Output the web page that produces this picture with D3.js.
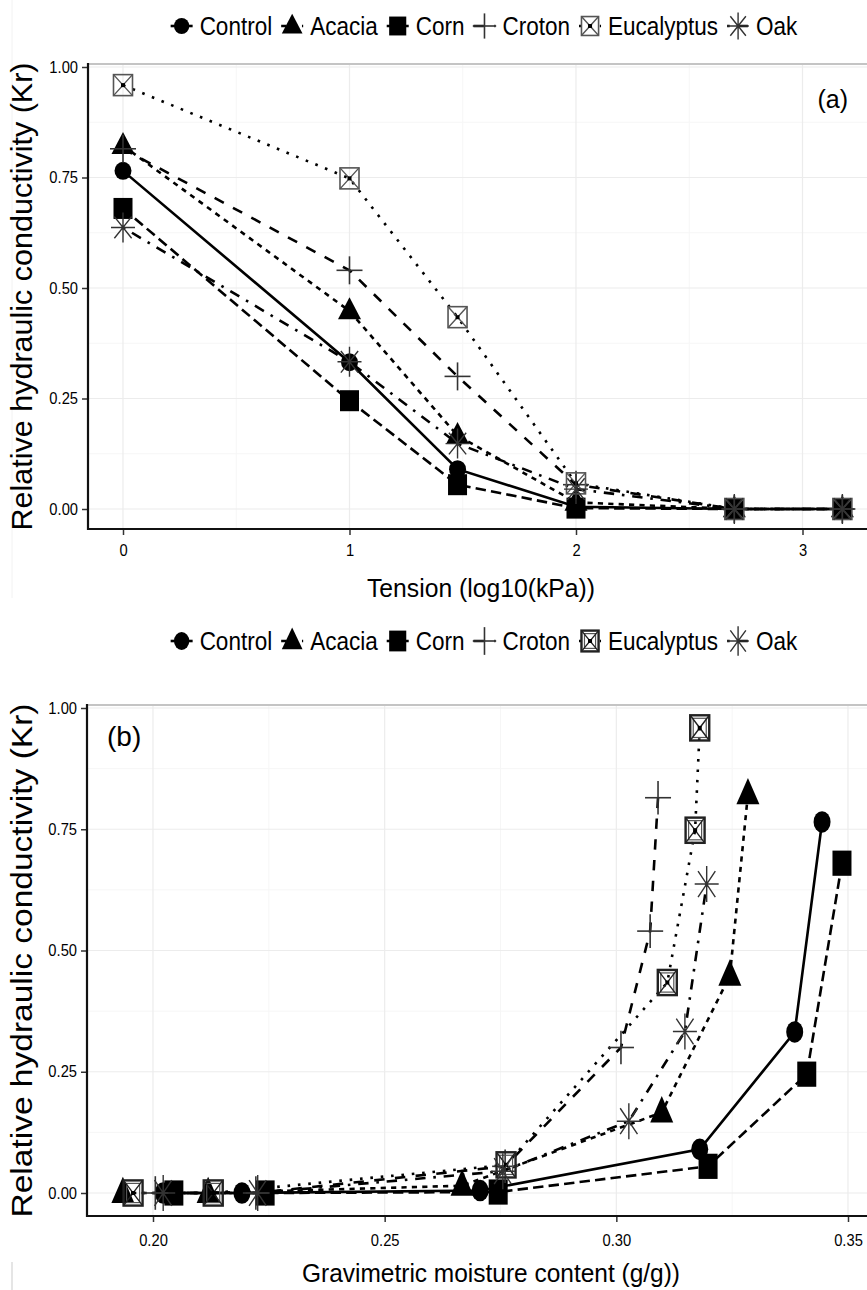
<!DOCTYPE html>
<html>
<head>
<meta charset="utf-8">
<script src="https://cdn.jsdelivr.net/npm/d3@7"></script>
<style>
  body { margin: 0; background: #fff; }
  svg { display: block; }
  text { font-family: "Liberation Sans", Arial, sans-serif; fill: #000; }
</style>
</head>
<body>
<svg id="chart" width="867" height="1290"></svg>
<script>
// ---- data ----
var species = ["Control", "Acacia", "Corn", "Croton", "Eucalyptus", "Oak"];
var tension = [0, 1, 1.477, 2, 2.699, 3.176];   // log10(kPa)

// relative hydraulic conductivity (Kr) per tension step
var krControl    = [0.765, 0.332, 0.090, 0.005, 0, 0];
var krAcacia     = [0.822, 0.448, 0.166, 0.015, 0, 0];
var krCorn       = [0.680, 0.245, 0.055, 0.002, 0, 0];
var krCroton     = [0.815, 0.540, 0.300, 0.055, 0, 0];
var krEucalyptus = [0.959, 0.748, 0.434, 0.058, 0, 0];
var krOak        = [0.637, 0.333, 0.148, 0.045, 0, 0];

// gravimetric moisture content (g/g) per tension step
var wControl    = [0.3444, 0.3385, 0.3180, 0.2706, 0.2192, 0.2022];
var wAcacia     = [0.3284, 0.3245, 0.3098, 0.2667, 0.2119, 0.1935];
var wCorn       = [0.3487, 0.3411, 0.3198, 0.2745, 0.2242, 0.2045];
var wCroton     = [0.3090, 0.3073, 0.3010, 0.2760, 0.2222, 0.2005];
var wEucalyptus = [0.3180, 0.3170, 0.3110, 0.2762, 0.2130, 0.1957];
var wOak        = [0.3195, 0.3148, 0.3027, 0.2755, 0.2226, 0.2022];

var yTicks = [0, 0.25, 0.5, 0.75, 1];
var xTicksA = [0, 1, 2, 3];
var xTicksB = [0.20, 0.25, 0.30, 0.35];

var krAll = [krControl, krAcacia, krCorn, krCroton, krEucalyptus, krOak];
var wAll  = [wControl, wAcacia, wCorn, wCroton, wEucalyptus, wOak];

// ggplot style: shape + linetype per species
var shapes = ["circle", "triangle", "square", "plus", "boxx", "asterisk"];
var dashes = ["solid", "22", "42", "44", "13", "1343"];

var W = 867;
var LW = 2.6;
var svg = d3.select("#chart");

function dashArray(code) {
  if (code == "solid") return null;
  return code.split("").map(function(c) { return parseInt(c, 16) * LW; }).join(",");
}

function squeeze(sel, f) {
  sel.each(function() {
    var l = this.getComputedTextLength();
    d3.select(this).attr("textLength", l * f).attr("lengthAdjust", "spacingAndGlyphs");
  });
}

// draw one marker centred at cx,cy ; sx/sy scale sizes
function marker(g, shape, cx, cy, sx, sy, heavy) {
  var m = g.append("g").attr("transform", "translate(" + cx + "," + cy + ")");
  if (shape == "circle") {
    m.append("ellipse").attr("rx", 8.5 * sx).attr("ry", 9 * sy).attr("fill", "#000");
  } else if (shape == "square") {
    m.append("rect").attr("x", -9.5 * sx).attr("y", -10.5 * sy)
      .attr("width", 19 * sx).attr("height", 21 * sy).attr("fill", "#000");
  } else if (shape == "triangle") {
    var hw = 11.5 * sx, h = 22 * sy;
    m.append("path").attr("d", "M0," + (-0.62 * h) + "L" + hw + "," + (0.38 * h) + "L" + (-hw) + "," + (0.38 * h) + "Z")
      .attr("fill", "#000");
  } else if (shape == "plus") {
    m.append("line").attr("x1", -13 * sx).attr("x2", 13 * sx).attr("y1", 0).attr("y2", 0)
      .attr("stroke", "#333").attr("stroke-width", 1.6);
    m.append("line").attr("y1", -14 * sy).attr("y2", 14 * sy).attr("x1", 0).attr("x2", 0)
      .attr("stroke", "#333").attr("stroke-width", 1.6);
  } else if (shape == "boxx") {
    var bw = 9.5 * sx, bh = 10.5 * sy;
    var col = heavy ? "#222" : "#555", sw = heavy ? 2.4 : 1.6;
    m.append("rect").attr("x", -bw).attr("y", -bh).attr("width", 2 * bw).attr("height", 2 * bh)
      .attr("fill", "none").attr("stroke", col).attr("stroke-width", sw);
    if (heavy) {
      m.append("rect").attr("x", -bw + 3).attr("y", -bh + 3).attr("width", 2 * bw - 6).attr("height", 2 * bh - 6)
        .attr("fill", "none").attr("stroke", "#555").attr("stroke-width", 1.2);
    }
    m.append("path").attr("d", "M" + (-bw) + "," + (-bh) + "L" + bw + "," + bh + "M" + bw + "," + (-bh) + "L" + (-bw) + "," + bh)
      .attr("stroke", col).attr("stroke-width", 1.4);
    m.append("rect").attr("x", -2).attr("y", -2).attr("width", 4).attr("height", 4).attr("fill", "#000");
  } else if (shape == "asterisk") {
    var ax = 12 * sx, ay = 15 * sy;
    var d = "M" + (-ax) + ",0L" + ax + ",0M0," + (-ay) + "L0," + ay +
      "M" + (-ax * 0.72) + "," + (-ay * 0.72) + "L" + (ax * 0.72) + "," + (ay * 0.72) +
      "M" + (ax * 0.72) + "," + (-ay * 0.72) + "L" + (-ax * 0.72) + "," + (ay * 0.72);
    m.append("path").attr("d", d).attr("stroke", "#333").attr("stroke-width", 1.4).attr("fill", "none");
  }
}

function legend(cy, sy, heavy) {
  var lg = svg.append("g");
  var txts = species.map(function(s) {
    return lg.append("text").attr("font-size", 25).attr("y", cy + 9).text(s);
  });
  txts.forEach(function(t) { squeeze(t, 0.9); });
  var widths = txts.map(function(t) { return +t.attr("textLength"); });
  var total = 9 + d3.sum(widths) + species.length * 18 + (species.length - 1) * 20;
  var xc = 485 - total / 2 + 9;
  species.forEach(function(s, i) {
    lg.append("line").attr("x1", xc - 11).attr("x2", xc + 11).attr("y1", cy).attr("y2", cy)
      .attr("stroke", "#000").attr("stroke-width", LW).attr("stroke-dasharray", dashArray(dashes[i]));
    marker(lg, shapes[i], xc, cy, 0.9, 0.9 * sy, heavy);
    txts[i].attr("x", xc + 18);
    xc = xc + 18 + widths[i] + 20;
  });
}

function panel(p) {
  var g = svg.append("g");
  var x = d3.scaleLinear().domain(p.xDom).range(p.xRng);
  var y = d3.scaleLinear().domain([0, 1]).range(p.yRng);

  // grid lines, minor then major
  p.xMinor.forEach(function(v) {
    g.append("line").attr("x1", x(v)).attr("x2", x(v)).attr("y1", p.top).attr("y2", p.bottom)
      .attr("stroke", "#f6f6f6").attr("stroke-width", 1);
  });
  [0.125, 0.375, 0.625, 0.875].forEach(function(v) {
    g.append("line").attr("x1", p.left).attr("x2", W).attr("y1", y(v)).attr("y2", y(v))
      .attr("stroke", "#f6f6f6").attr("stroke-width", 1);
  });
  p.xTicks.forEach(function(v) {
    g.append("line").attr("x1", x(v)).attr("x2", x(v)).attr("y1", p.top).attr("y2", p.bottom)
      .attr("stroke", "#ececec").attr("stroke-width", 1.2);
  });
  yTicks.forEach(function(v) {
    g.append("line").attr("x1", p.left).attr("x2", W).attr("y1", y(v)).attr("y2", y(v))
      .attr("stroke", "#ececec").attr("stroke-width", 1.2);
  });

  // top border
  g.append("line").attr("x1", p.left).attr("x2", W).attr("y1", p.top).attr("y2", p.top)
    .attr("stroke", "#c4c4c4").attr("stroke-width", 2.2);

  // axes
  var ya = g.append("g").attr("transform", "translate(" + p.left + ",0)")
    .call(d3.axisLeft(y).tickValues(yTicks).tickFormat(d3.format(".2f")).tickSize(6).tickPadding(4).tickSizeOuter(0));
  var xa = g.append("g").attr("transform", "translate(0," + p.bottom + ")")
    .call(d3.axisBottom(x).tickValues(p.xTicks).tickFormat(p.xFmt).tickSize(6).tickPadding(p.xPad).tickSizeOuter(0));
  [ya, xa].forEach(function(a) {
    a.select(".domain").remove();
    a.selectAll(".tick line").attr("stroke", "#333").attr("stroke-width", 1.5);
    a.selectAll(".tick text").attr("font-family", "'Liberation Sans', Arial, sans-serif")
      .attr("font-size", p.tickFont).attr("fill", "#222");
  });
  squeeze(ya.selectAll(".tick text"), 0.92);
  squeeze(xa.selectAll(".tick text"), 0.92);
  g.append("line").attr("x1", p.left).attr("x2", p.left).attr("y1", p.top - 1).attr("y2", p.bottom + 1)
    .attr("stroke", "#111").attr("stroke-width", 2.2);
  g.append("line").attr("x1", p.left - 1).attr("x2", W).attr("y1", p.bottom).attr("y2", p.bottom)
    .attr("stroke", "#111").attr("stroke-width", 2.2);

  // series lines
  var line = d3.line().x(function(d) { return x(d[0]); }).y(function(d) { return y(d[1]); });
  var series = species.map(function(s, i) {
    return p.xs[i].map(function(v, j) { return [v, krAll[i][j]]; });
  });
  series.forEach(function(pts, i) {
    g.append("path").attr("d", line(pts)).attr("fill", "none").attr("stroke", "#000")
      .attr("stroke-width", LW).attr("stroke-dasharray", dashArray(dashes[i]));
  });
  // points
  series.forEach(function(pts, i) {
    pts.forEach(function(d) {
      marker(g, shapes[i], x(d[0]), y(d[1]), 1, p.sy, p.heavy);
    });
  });

  // titles
  var xt = g.append("text").attr("x", p.xTitleX).attr("y", p.xTitleY).attr("text-anchor", "middle")
    .attr("font-size", 26).text(p.xTitle);
  xt.attr("textLength", p.xTitleLen).attr("lengthAdjust", "spacingAndGlyphs");
  var yt = g.append("text").attr("transform", "translate(32," + ((p.top + p.bottom) / 2) + ") rotate(-90)")
    .attr("text-anchor", "middle").attr("font-size", 30).text("Relative hydraulic conductivity (Kr)");
  yt.attr("textLength", p.yTitleLen).attr("lengthAdjust", "spacingAndGlyphs");

  g.append("text").attr("x", p.labX).attr("y", p.labY).attr("text-anchor", p.labAnchor)
    .attr("font-size", p.labFont).text(p.label);
}

// faint frame lines of the original composite
svg.append("line").attr("x1", 12).attr("x2", 12).attr("y1", 0).attr("y2", 598)
  .attr("stroke", "#f2f2f2").attr("stroke-width", 1);
svg.append("line").attr("x1", 12).attr("x2", 12).attr("y1", 1262).attr("y2", 1290)
  .attr("stroke", "#dddddd").attr("stroke-width", 1.5);

// panel (a): tension
panel({
  top: 64, bottom: 529, left: 88,
  xDom: [0, 3], xRng: [123, 802.5], yRng: [509, 67],
  xTicks: xTicksA, xMinor: [0.5, 1.5, 2.5], xFmt: d3.format("d"), xPad: 10,
  tickFont: 16, xs: wAll.map(function() { return tension; }),
  sy: 1, heavy: false,
  xTitle: "Tension (log10(kPa))", xTitleX: 481, xTitleY: 597, xTitleLen: 228, yTitleLen: 468,
  label: "(a)", labX: 848, labY: 108, labAnchor: "end", labFont: 25
});
legend(26, 1, false);

// panel (b): gravimetric moisture
panel({
  top: 705, bottom: 1216, left: 87,
  xDom: [0.20, 0.35], xRng: [153, 848], yRng: [1193, 708],
  xTicks: xTicksB, xMinor: [0.225, 0.275, 0.325], xFmt: d3.format(".2f"), xPad: 13,
  tickFont: 16, xs: wAll,
  sy: 1.2, heavy: true,
  xTitle: "Gravimetric moisture content (g/g))", xTitleX: 491, xTitleY: 1282, xTitleLen: 378, yTitleLen: 514,
  label: "(b)", labX: 107, labY: 746, labAnchor: "start", labFont: 28
});
legend(641, 1.1, true);
</script>
</body>
</html>
